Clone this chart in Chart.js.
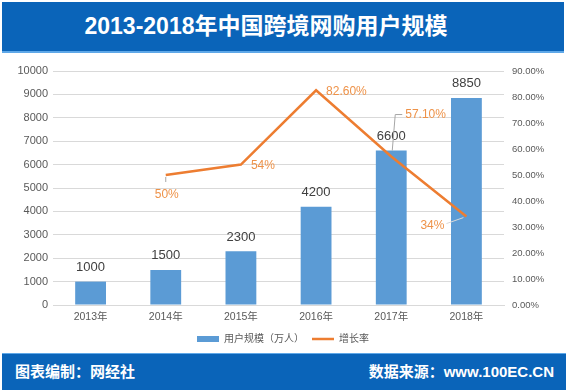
<!DOCTYPE html>
<html lang="zh">
<head>
  <meta charset="UTF-8">
  <title>2013-2018年中国跨境网购用户规模</title>
  <script src="https://cdn.jsdelivr.net/npm/chart.js"></script>
  <style>
    body {
      margin: 0;
      width: 566px;
      height: 391px;
      background: #fff;
      position: relative;
      overflow: hidden;
      font-family: "Liberation Sans", "Noto Sans CJK SC", sans-serif;
    }
    .title-bar {
      position: absolute;
      left: 2px;
      top: 2px;
      width: 528px;
      padding-right: 34px;
      height: 49px;
      background: #0a64b9;
      border-bottom: 2px solid #5fa8e8;
      color: #fff;
      font-weight: bold;
      font-size: 23px;
      line-height: 49px;
      text-align: center;
    }
    .chart-box {
      position: absolute;
      left: 0;
      top: 55px;
      width: 566px;
      height: 299px;
    }
    .footer-bar {
      position: absolute;
      left: 2px;
      top: 353px;
      width: 564px;
      height: 36px;
      background: #0a64b9;
      border-top: 1px solid #5fa8e8;
      color: #fff;
      font-weight: bold;
      font-size: 15px;
      line-height: 36px;
    }
    .footer-bar .left { position: absolute; left: 13px; }
    .footer-bar .right { position: absolute; right: 12px; }
  </style>
</head>
<body>

<div class="title-bar">2013-2018年中国跨境网购用户规模</div>

<div class="chart-box">
  <canvas id="userChart" width="566" height="299"></canvas>
</div>

<div class="footer-bar">
  <span class="left">图表编制：网经社</span>
  <span class="right">数据来源：www.100EC.CN</span>
</div>

<script>
  const years = ['2013年', '2014年', '2015年', '2016年', '2017年', '2018年'];
  const users = [1000, 1500, 2300, 4200, 6600, 8850];
  const growth = [null, 50, 54, 82.6, 57.1, 34];
  const growthLabels = ['', '50%', '54%', '82.60%', '57.10%', '34%'];

  // where each growth label sits relative to its point
  const placement = [null, 'below', 'right', 'right', 'leaderUp', 'leftBelow'];

  const valueLabels = {
    id: 'valueLabels',
    afterDatasetsDraw(chart) {
      const ctx = chart.ctx;
      ctx.save();

      // bar values
      const bars = chart.getDatasetMeta(0).data;
      ctx.font = '13px "Liberation Sans", sans-serif';
      ctx.fillStyle = '#404040';
      ctx.textAlign = 'center';
      ctx.textBaseline = 'middle';
      bars.forEach((bar, i) => {
        ctx.fillText(String(users[i]), bar.x, bar.y - 14);
      });

      // growth values
      const pts = chart.getDatasetMeta(1).data;
      ctx.font = '12px "Liberation Sans", sans-serif';
      ctx.fillStyle = '#ee9248';
      ctx.strokeStyle = '#a6a6a6';
      ctx.lineWidth = 1;
      pts.forEach((p, i) => {
        if (growth[i] === null) return;
        const txt = growthLabels[i];
        const mode = placement[i];
        if (mode === 'below') {
          ctx.beginPath();
          ctx.moveTo(p.x, p.y + 2);
          ctx.lineTo(p.x, p.y + 7);
          ctx.stroke();
          ctx.textAlign = 'center';
          ctx.fillText(txt, p.x + 1, p.y + 20);
        } else if (mode === 'right') {
          ctx.textAlign = 'left';
          ctx.fillText(txt, p.x + 10, p.y + 1);
        } else if (mode === 'leaderUp') {
          ctx.beginPath();
          ctx.moveTo(p.x + 1, p.y - 6);
          ctx.lineTo(p.x + 4, p.y - 42);
          ctx.lineTo(p.x + 11, p.y - 42);
          ctx.stroke();
          ctx.textAlign = 'left';
          ctx.fillText(txt, p.x + 14, p.y - 42);
        } else if (mode === 'leftBelow') {
          ctx.strokeStyle = '#d9d9d9';
          ctx.beginPath();
          ctx.moveTo(p.x - 20, p.y + 7);
          ctx.lineTo(p.x - 3, p.y + 1);
          ctx.stroke();
          ctx.textAlign = 'right';
          ctx.fillText(txt, p.x - 22, p.y + 9);
        }
      });
      ctx.restore();
    }
  };

  new Chart(document.getElementById('userChart').getContext('2d'), {
    data: {
      labels: years,
      datasets: [{
        type: 'bar',
        label: '用户规模（万人）',
        data: users,
        backgroundColor: '#5b9bd5',
        categoryPercentage: 1,
        barPercentage: 0.41,
        yAxisID: 'y',
        order: 1
      }, {
        type: 'line',
        label: '增长率',
        data: growth,
        borderColor: '#ed7d31',
        backgroundColor: '#ed7d31',
        borderWidth: 2.5,
        pointRadius: 0,
        tension: 0,
        yAxisID: 'y1',
        order: 0
      }]
    },
    options: {
      responsive: false,
      animation: false,
      layout: { padding: { top: 16, left: 0, right: 0, bottom: 0 } },
      plugins: {
        tooltip: { enabled: false },
        legend: {
          position: 'bottom',
          labels: {
            color: '#595959',
            font: { size: 10, family: '"Liberation Sans", "Noto Sans CJK SC", sans-serif' },
            usePointStyle: true,
            pointStyleWidth: 22,
            boxHeight: 6,
            padding: 8,
            generateLabels(chart) {
              const items = Chart.defaults.plugins.legend.labels.generateLabels(chart);
              items.sort((a, b) => a.datasetIndex - b.datasetIndex);
              items.forEach(it => {
                const isBar = it.datasetIndex === 0;
                it.pointStyle = isBar ? 'rect' : 'line';
                it.lineWidth = isBar ? 0 : 2.5;
                it.fillStyle = isBar ? '#5b9bd5' : '#ed7d31';
                it.strokeStyle = isBar ? '#5b9bd5' : '#ed7d31';
              });
              return items;
            }
          }
        }
      },
      scales: {
        x: {
          afterFit(scale) { scale.height = 21; },
          grid: { display: false, drawTicks: false },
          border: { display: true, color: '#d9d9d9' },
          ticks: {
            color: '#595959',
            padding: 6,
            font: { size: 10.5, family: '"Liberation Sans", "Noto Sans CJK SC", sans-serif' }
          }
        },
        y: {
          position: 'left',
          min: 0,
          max: 10000,
          afterFit(scale) { scale.width = 53; },
          grid: { color: '#d9d9d9', drawTicks: false },
          border: { display: false },
          ticks: {
            stepSize: 1000,
            color: '#595959',
            padding: 5,
            font: { size: 11, family: '"Liberation Sans", sans-serif' },
            callback: v => String(v)
          }
        },
        y1: {
          position: 'right',
          min: 0,
          max: 90,
          afterFit(scale) { scale.width = 62; },
          grid: { display: false, drawTicks: false },
          border: { display: false },
          ticks: {
            stepSize: 10,
            color: '#595959',
            padding: 8,
            font: { size: 9.5, family: '"Liberation Sans", sans-serif' },
            callback: v => v.toFixed(2) + '%'
          }
        }
      }
    },
    plugins: [valueLabels]
  });
</script>

</body>
</html>
